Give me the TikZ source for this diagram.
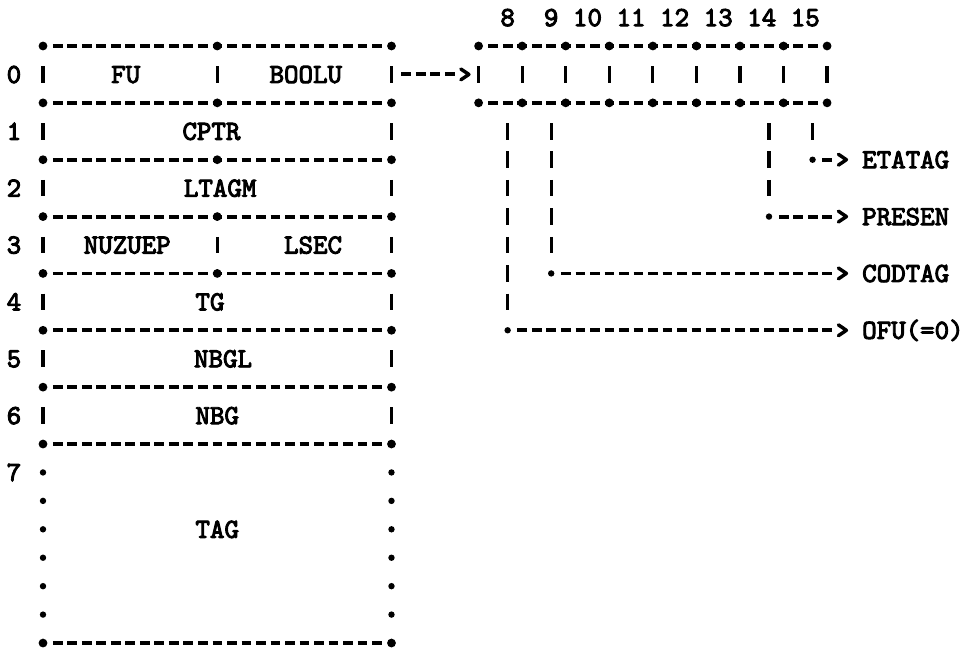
\documentclass[tikz,border=0pt]{standalone}
\usepackage{fontspec}
\newfontface\twface{lmmono10-regular.otf}[FakeBold=3.5]
\newcommand\twfont{\fontsize{20.7}{24}\twface}
\tikzset{
  hdash/.style={line width=2.9pt, dash pattern=on 7.3pt off 3.59pt, dash phase=8.995pt},
  vdash/.style={line width=2.4pt, dash pattern=on 12.4pt off 8.9225pt},
  wallbar/.style={line width=2.4pt},
  chev/.style={line width=2.6pt, line cap=round, line join=round},
  lbl/.style={font=\twfont, anchor=base, inner sep=0pt},
  lblw/.style={font=\twfont, anchor=base west, inner sep=0pt},
  hconn/.style={hdash, shorten <=5.445pt, shorten >=5.445pt},
  vconn/.style={vdash, shorten <=15.15pt, shorten >=15.15pt}
}
\begin{document}
\begin{tikzpicture}[x=10.89pt,y=-21.3225pt]
\useasboundingbox[fill=white] (-2.9614,-1.618) rectangle (63.843,21.245);

% ---------- left record ----------
\foreach \k in {0,2,4,6,8,10,12,14,21} {
  \draw[hdash] (0.5,\k) -- (23.5,\k);
  \fill (0,\k) circle[radius=3.3pt];
  \fill (24,\k) circle[radius=3.3pt];
}
\foreach \k in {0,2,4,6,8} \fill (12,\k) circle[radius=3.3pt];
\foreach \k in {1,3,5,7,9,11,13} {
  \draw[wallbar] (0,{\k-0.29}) -- (0,{\k+0.29});
  \draw[wallbar] (24,{\k-0.29}) -- (24,{\k+0.29});
}
\foreach \k in {1,7} \draw[wallbar] (12,{\k-0.29}) -- (12,{\k+0.29});
\foreach \k in {15,...,20} {
  \fill (0,\k) circle[radius=2.4pt];
  \fill (24,\k) circle[radius=2.4pt];
}

% row numbers
\foreach \r/\k in {0/1,1/3,2/5,3/7,4/9,5/11,6/13,7/15}
  \node[lbl] (row\r) at (-2,{\k+0.3}) {\r};

% field names
\node[lbl] (fu)     at (5.7,1.3)  {FU};
\node[lbl] (boolu)  at (18.1,1.3) {BOOLU};
\node[lbl] (cptr)   at (11.6,3.3) {CPTR};
\node[lbl] (ltagm)  at (12.2,5.3) {LTAGM};
\node[lbl] (nuzuep) at (5.8,7.3)  {NUZUEP};
\node[lbl] (lsec)   at (18.6,7.3) {LSEC};
\node[lbl] (tg)     at (11.5,9.3) {TG};
\node[lbl] (nbgl)   at (12.4,11.3) {NBGL};
\node[lbl] (nbg)    at (12,13.3)  {NBG};
\node[lbl] (tag)    at (12,17.3)  {TAG};

% ---------- right record (bits 8..15) ----------
\foreach \k in {0,2} \draw[hdash] (30.5,\k) -- (53.5,\k);
\foreach \c in {30,33,...,54} {
  \fill (\c,0) circle[radius=3.3pt];
  \fill (\c,2) circle[radius=3.3pt];
  \draw[wallbar] (\c,0.71) -- (\c,1.29);
}
\foreach \b/\c in {8/32,9/35,10/37.5,11/40.5,12/43.5,13/46.5,14/49.5,15/52.5}
  \node[lbl] (bit\b) at (\c,-0.7) {\b};

% ---------- arrow word 0 -> bits ----------
\coordinate (ae) at (24,1);
\coordinate (at) at (29,1);
\draw[hconn] (ae) -- (at);
\draw[chev] (at) ++(-0.22,-0.19) -- ++(0.55,0.19) -- ++(-0.55,0.19);

% ---------- output labels ----------
\node[lblw] (etatag) at (56.4,4.3)  {ETATAG};
\node[lblw] (presen) at (56.4,6.3)  {PRESEN};
\node[lblw] (codtag) at (56.4,8.3)  {CODTAG};
\node[lblw] (ofu)    at (56.4,10.3) {OFU(=0)};

% ---------- bit connectors ----------
\foreach \n/\c/\k in {b8/32/10, b9/35/8, b14/50/6, b15/53/4} {
  \coordinate (\n top) at (\c,2);
  \coordinate (\n cor) at (\c,\k);
  \coordinate (\n tip) at (55,\k);
  \draw[vconn] (\n top) -- (\n cor);
  \fill (\n cor) circle[radius=2.4pt];
  \draw[hconn] (\n cor) -- (\n tip);
  \draw[chev] (\n tip) ++(-0.22,-0.19) -- ++(0.55,0.19) -- ++(-0.55,0.19);
}
\end{tikzpicture}
\end{document}
